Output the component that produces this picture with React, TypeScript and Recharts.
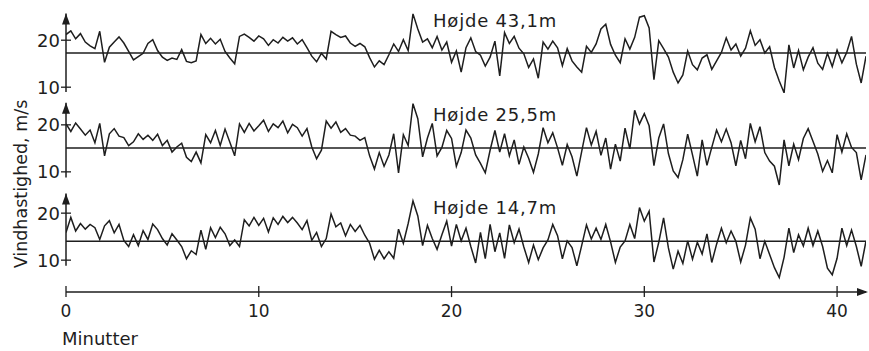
import React from 'react';
import { LineChart, Line, XAxis, YAxis, ReferenceLine, ReferenceDot } from 'recharts';

// wind speed (m/s) read every quarter minute, t = 0 .. 41.5 min
const STEP = 0.25;
const X_MAX = 41.5;
const X_TICKS = [0, 10, 20, 30, 40];
const Y_TICKS = [10, 20];

const speed43 = [
  21.2, 22.0, 20.3, 21.4,
  19.6, 18.8, 18.2, 21.9,
  15.3, 18.5, 19.6, 20.7,
  19.4, 17.6, 15.8, 16.5,
  17.2, 19.3, 20.1, 17.8,
  16.4, 15.7, 16.2, 15.9,
  18.0, 15.5, 15.2, 15.6,
  21.2, 19.3, 20.4, 19.2,
  20.2, 17.6, 16.2, 15.0,
  20.8, 21.3, 20.6, 19.8,
  20.9, 20.3, 18.9, 20.1,
  19.4, 20.6, 19.8, 20.5,
  19.2, 20.1, 18.4, 16.6,
  15.4, 17.2, 16.0, 21.9,
  21.2, 20.6, 20.9, 19.4,
  18.7, 19.3, 18.6, 16.3,
  14.3, 15.6, 14.8, 16.9,
  19.2, 17.6, 20.1, 17.8,
  25.6, 22.4, 19.6, 20.3,
  18.4, 20.8, 17.9, 19.6,
  15.3, 17.7, 13.2, 18.4,
  20.5, 17.6, 16.8, 14.5,
  16.4, 19.8, 12.4, 21.6,
  19.3, 20.8, 18.3, 17.1,
  14.2, 16.0, 11.9, 19.6,
  18.1, 19.8, 18.4, 14.6,
  18.2, 15.6, 14.3, 13.2,
  18.7, 17.4, 19.2, 22.4,
  23.4, 19.1, 16.8, 15.2,
  20.3, 18.1, 20.6, 24.9,
  25.2, 22.6, 11.6, 19.9,
  18.2, 16.4, 13.2, 10.9,
  12.6, 17.7, 14.8, 13.7,
  16.2, 16.9, 13.8, 15.6,
  17.4, 20.5, 17.9, 19.2,
  16.6, 18.3, 22.0, 18.9,
  20.1, 17.3, 18.6, 14.2,
  11.3, 8.8, 19.0, 14.1,
  17.8, 13.7, 16.4, 18.4,
  15.1, 13.8, 17.2, 14.4,
  17.9, 15.2, 17.4, 20.8,
  14.9, 10.9, 16.6,
];

const speed25 = [
  20.2, 18.6, 20.4, 19.1,
  17.8, 18.9, 16.2, 20.3,
  13.4, 18.1, 19.2, 17.6,
  17.3, 15.6, 16.4, 18.1,
  16.9, 17.8, 16.7, 18.0,
  15.6, 16.7, 14.2, 15.3,
  16.1, 13.1, 12.2, 14.2,
  11.9, 17.9, 16.2, 18.8,
  15.6, 19.1, 16.3, 13.4,
  20.2, 18.4, 20.3, 18.7,
  19.8, 21.0, 18.6, 20.2,
  19.4, 20.8, 18.3, 20.1,
  19.4, 17.6, 19.2, 15.3,
  12.8, 14.6, 20.8, 19.3,
  20.6, 18.4, 19.2, 17.8,
  17.6, 16.7, 17.3, 13.4,
  10.6, 14.1, 11.2, 13.6,
  18.1, 9.8, 17.9, 15.6,
  24.5, 21.3, 13.2, 17.2,
  20.3, 13.4, 15.2, 18.8,
  17.1, 11.2, 14.1, 18.9,
  17.2, 13.6, 11.8, 9.8,
  14.6, 18.8, 14.2, 18.1,
  13.4, 16.8, 11.6, 15.3,
  12.9, 9.9, 13.8, 19.4,
  16.2, 18.3, 15.1, 11.4,
  15.8, 13.2, 9.1, 14.3,
  19.4, 15.7, 18.6, 13.5,
  17.2, 10.6, 15.9, 12.3,
  19.3, 14.9, 23.1, 20.2,
  22.4, 19.8, 11.3, 17.2,
  20.2, 13.9, 10.2, 8.8,
  12.6, 18.0, 13.6, 9.1,
  16.8, 11.4, 15.2, 18.9,
  16.4, 19.1, 16.2, 11.3,
  16.7, 12.8, 20.3, 16.4,
  19.6, 14.1, 12.3, 11.2,
  7.2, 16.8, 11.3, 15.9,
  12.6, 17.1, 19.2, 16.5,
  13.8, 10.1, 12.4, 9.8,
  17.9, 14.2, 18.1, 15.2,
  14.1, 8.3, 13.6,
];

const speed14 = [
  15.9, 19.1, 16.2, 17.8,
  16.6, 17.6, 16.9, 14.4,
  17.3, 18.4, 15.8, 17.6,
  14.2, 12.9, 15.4, 13.1,
  16.3, 14.4, 17.7, 16.5,
  14.6, 13.2, 15.6, 14.3,
  12.9, 10.3, 12.0, 11.2,
  16.4, 12.3, 16.9, 14.8,
  17.0, 15.6, 13.1, 14.3,
  12.9, 18.6, 17.3, 19.1,
  17.4, 18.9, 16.0, 19.0,
  17.6, 19.3, 18.0, 19.1,
  17.9, 16.5, 18.4, 14.2,
  15.9, 12.9, 14.6, 19.8,
  17.1, 17.9, 15.2, 17.6,
  16.1, 17.4, 15.3, 13.6,
  10.2, 12.1, 10.3, 11.8,
  10.4, 16.6, 13.6, 17.8,
  22.6, 19.4, 13.1, 17.4,
  14.6, 12.3, 15.4, 18.3,
  13.0, 17.6, 14.1, 16.8,
  12.9, 9.4, 15.9, 10.3,
  17.6, 11.8, 15.8, 10.4,
  17.5, 13.7, 16.6, 12.8,
  9.5, 13.2, 10.1, 12.6,
  14.3, 17.6, 15.2, 10.3,
  14.1, 12.7, 8.8, 13.1,
  17.5, 14.5, 16.8, 14.4,
  17.6, 13.9, 9.5, 12.8,
  14.1, 17.6, 14.6, 21.2,
  18.3, 20.4, 9.6, 13.8,
  19.0, 12.6, 8.1, 11.9,
  9.3, 14.1, 10.2, 13.8,
  11.3, 15.6, 9.5, 13.4,
  16.8, 13.7, 16.2, 14.0,
  9.6, 13.2, 19.0, 16.6,
  10.3, 14.0, 11.2, 8.4,
  6.3, 10.6, 16.8, 11.6,
  15.4, 13.0, 16.8, 13.1,
  16.2, 12.9, 8.3, 6.9,
  10.4, 16.8, 13.1, 16.4,
  12.9, 8.7, 14.1,
];

const heightLabels = ['Højde 43,1m', 'Højde 25,5m', 'Højde 14,7m'];
const meanSpeeds = [17.3, 15.1, 14.0];

const W = 869;
const H = 351;
const PLOT_LEFT = 66;
const PLOT_RIGHT = 866;
const PX = 4.7; // pixels per m/s
const PAD = 10;
const INK = '#1e1e1e';
const FONT = '"DejaVu Sans", Arial, sans-serif';

const panels = [
  { data: speed43, lo: 8.5, hi: 26, tip: 25.7, base: 9.0, top: 11.8, labelY: 26.5 },
  { data: speed25, lo: 6.5, hi: 25.5, tip: 24.7, base: 8.8, top: 99.15, labelY: 120.5 },
  { data: speed14, lo: 3.2, hi: 24.5, tip: 24.2, base: 8.8, top: 191.85, labelY: 214 },
];

const toRows = (vals: number[]) => vals.map((v, i) => ({ t: i * STEP, v }));

const XTick = ({ x, y, payload }: any) => (
  <g>
    <line x1={x} x2={x} y1={y - 6} y2={y + 5} stroke={INK} strokeWidth={1.3} />
    <text x={x} y={y + 24.5} textAnchor="middle" fill={INK} fontSize={17} fontFamily={FONT}>
      {payload.value}
    </text>
  </g>
);

const YTick = ({ x, y, payload }: any) => (
  <g>
    <line x1={x - 5} x2={x + 5} y1={y} y2={y} stroke={INK} strokeWidth={1.3} />
    <text x={x - 6} y={y} dy="0.36em" textAnchor="end" fill={INK} fontSize={18} fontFamily={FONT}>
      {payload.value}
    </text>
  </g>
);

const UpArrow = ({ cx, cy }: any) => (
  <path d={`M${cx},${cy} L${cx - 4},${cy + 11} L${cx + 4},${cy + 11} Z`} fill={INK} />
);

const RightArrow = ({ cx, cy }: any) => (
  <path d={`M${cx + 2},${cy} L${cx - 9},${cy - 4} L${cx - 9},${cy + 4} Z`} fill={INK} />
);

const Panel = ({ idx }: { idx: number }) => {
  const p = panels[idx];
  const showX = idx === panels.length - 1;
  const plotH = (p.hi - p.lo) * PX;
  const axisH = showX ? 50 : 0;
  const bottomPad = showX ? 0 : PAD;
  return (
    <div style={{ position: 'absolute', left: 0, top: p.top - PAD }}>
      <LineChart
        width={W}
        height={plotH + axisH + PAD + bottomPad}
        data={toRows(p.data)}
        margin={{ top: PAD, right: W - PLOT_RIGHT, bottom: bottomPad, left: 0 }}
      >
        <XAxis
          type="number"
          dataKey="t"
          domain={[0, X_MAX]}
          ticks={X_TICKS}
          interval={0}
          hide={!showX}
          height={axisH}
          axisLine={{ stroke: INK, strokeWidth: 1.5 }}
          tickLine={false}
          tickSize={0}
          tickMargin={0}
          tick={XTick}
          allowDataOverflow
        />
        <YAxis
          type="number"
          domain={[p.lo, p.hi]}
          ticks={Y_TICKS}
          interval={0}
          width={PLOT_LEFT}
          axisLine={false}
          tickLine={false}
          tickSize={0}
          tickMargin={0}
          tick={YTick}
          allowDataOverflow
        />
        <ReferenceLine y={meanSpeeds[idx]} stroke={INK} strokeWidth={1.5} />
        <ReferenceLine
          segment={[{ x: 0, y: p.base }, { x: 0, y: p.tip }]}
          stroke={INK}
          strokeWidth={1.5}
        />
        <ReferenceDot x={0} y={p.tip} r={1} shape={UpArrow} />
        {showX && <ReferenceDot x={X_MAX} y={p.lo} r={1} shape={RightArrow} />}
        <Line
          type="linear"
          dataKey="v"
          stroke={INK}
          strokeWidth={1.5}
          dot={false}
          isAnimationActive={false}
        />
      </LineChart>
    </div>
  );
};

export default function App() {
  return (
    <div style={{ position: 'absolute', left: 0, top: 0, width: W, height: H, background: '#fff' }}>
      {panels.map((_, i) => (
        <Panel key={i} idx={i} />
      ))}
      <svg
        width={W}
        height={H}
        style={{ position: 'absolute', left: 0, top: 0, pointerEvents: 'none' }}
      >
        {panels.map((p, i) => (
          <text
            key={i}
            x={433}
            y={p.labelY}
            fill={INK}
            fontSize={18}
            letterSpacing={0.8}
            fontFamily={FONT}
          >
            {heightLabels[i]}
          </text>
        ))}
        <text x={62} y={345} fill={INK} fontSize={18} fontFamily={FONT}>
          Minutter
        </text>
        <text
          transform="translate(27,184) rotate(-90)"
          textAnchor="middle"
          fill={INK}
          fontSize={17.5}
          fontFamily={FONT}
        >
          Vindhastighed, m/s
        </text>
      </svg>
    </div>
  );
}
